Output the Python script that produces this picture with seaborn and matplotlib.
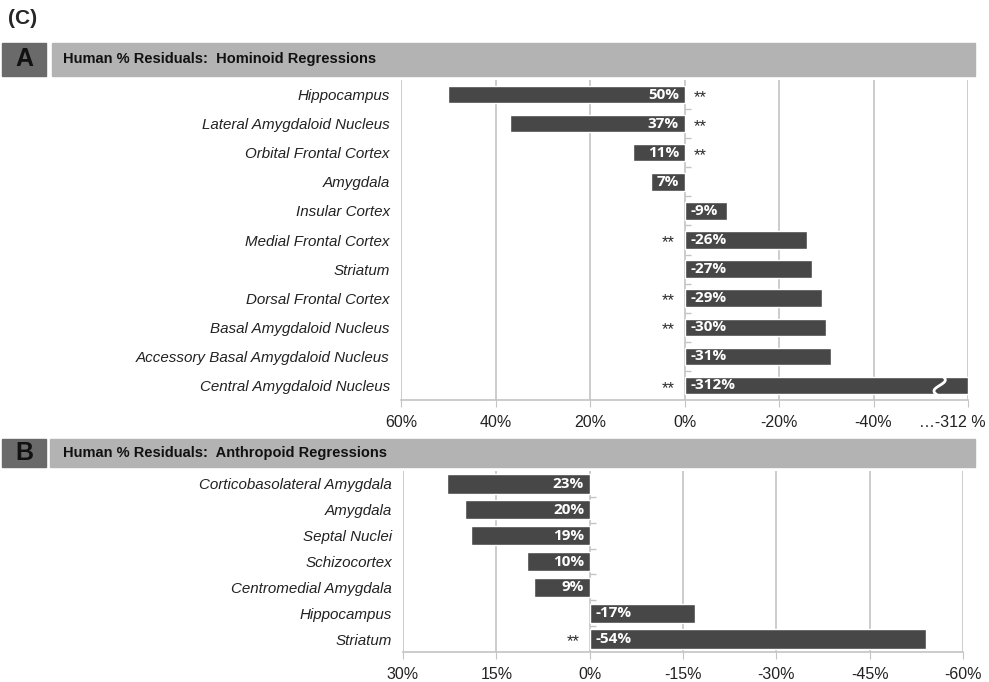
import numpy as np
import pandas as pd
import seaborn as sns
import matplotlib.pyplot as plt
import matplotlib.transforms as mtransforms
from matplotlib.patches import Rectangle

# panel A: hominoid regressions
regions_a = ['Hippocampus', 'Lateral Amygdaloid Nucleus', 'Orbital Frontal Cortex', 'Amygdala',
             'Insular Cortex', 'Medial Frontal Cortex', 'Striatum', 'Dorsal Frontal Cortex',
             'Basal Amygdaloid Nucleus', 'Accessory Basal Amygdaloid Nucleus', 'Central Amygdaloid Nucleus']
resid_a = [50, 37, 11, 7, -9, -26, -27, -29, -30, -31, -312]
signif_a = [True, True, True, False, False, True, False, True, True, False, True]
ticks_a = [60, 40, 20, 0, -20, -40, -60]
ticklabels_a = ['60%', '40%', '20%', '0%', '-20%', '-40%', '\u2026-312 %']

# panel B: anthropoid regressions
regions_b = ['Corticobasolateral Amygdala', 'Amygdala', 'Septal Nuclei', 'Schizocortex',
             'Centromedial Amygdala', 'Hippocampus', 'Striatum']
resid_b = [23, 20, 19, 10, 9, -17, -54]
signif_b = [False, False, False, False, False, False, True]
ticks_b = [30, 15, 0, -15, -30, -45, -60]
ticklabels_b = ['30%', '15%', '0%', '-15%', '-30%', '-45%', '-60%']

BAR = '#474747'
GRID = '#c4c4c4'

sns.set_style("white")
plt.rcParams['font.family'] = ['Liberation Sans', 'DejaVu Sans']

fig = plt.figure(figsize=(9.89, 6.82), dpi=100)
W, H = 989, 682


def px_axes(x0, y0, x1, y1):
    return fig.add_axes([x0 / W, 1 - y1 / H, (x1 - x0) / W, (y1 - y0) / H])


def header(y0, y1, letter, title, xg):
    fig.patches.append(Rectangle((2 / W, 1 - y1 / H), 44 / W, (y1 - y0) / H,
                                 transform=fig.transFigure, color='#6a6a6a', zorder=0))
    fig.patches.append(Rectangle((xg / W, 1 - y1 / H), (975 - xg) / W, (y1 - y0) / H,
                                 transform=fig.transFigure, color='#b3b3b3', zorder=0))
    yc = 1 - (y0 + y1) / 2 / H
    fig.text(24 / W, yc, letter, fontsize=18, fontweight='bold', ha='center', va='center', color='#111111')
    fig.text(63 / W, yc, title, fontsize=10.5, fontweight='bold', ha='left', va='center', color='#111111')


def panel(ax, regions, resid, signif, ticks, ticklabels, lim, bar_h):
    df = pd.DataFrame({'region': regions, 'resid': resid,
                       'shown': np.clip(resid, lim[1], lim[0])})
    sns.barplot(data=df, x='shown', y='region', orient='h', color=BAR, saturation=1,
                width=bar_h, ax=ax, zorder=3)
    ax.set_xlim(*lim)
    ax.set_ylim(len(regions) - 0.5, -0.5)
    ax.set_xticks(ticks)
    ax.set_xticklabels(ticklabels, fontsize=11.5, color='#222222')
    ax.set_xlabel('')
    ax.set_ylabel('')
    ax.set_yticks(range(len(regions)))
    ax.set_yticklabels(regions, fontsize=10.9, style='italic', color='#222222')
    ax.tick_params(axis='y', length=0, pad=8)
    ax.tick_params(axis='x', length=5, color=GRID, direction='out', pad=6, bottom=True)
    for s in ['top', 'left', 'right']:
        ax.spines[s].set_visible(False)
    ax.spines['bottom'].set_color(GRID)
    ax.spines['bottom'].set_linewidth(1.2)
    ax.grid(axis='x', color=GRID, linewidth=1.2, zorder=0)
    ax.grid(axis='y', visible=False)
    # small separators on the zero line
    span = lim[0] - lim[1]
    ax.hlines(np.arange(len(regions) - 1) + 0.5, 0, -span * 0.012, color=GRID, linewidth=1, zorder=2)
    for i, (v, star) in enumerate(zip(resid, signif)):
        if v > 0:
            ax.annotate(f'{v}%', (0, i), xytext=(-4, 0), textcoords='offset points',
                        ha='right', va='center', color='white', fontsize=11, fontweight='bold',
                        family=['Open Sans', 'DejaVu Sans'], zorder=5)
        else:
            ax.annotate(f'{v}%', (0, i), xytext=(4, 0), textcoords='offset points',
                        ha='left', va='center', color='white', fontsize=11, fontweight='bold',
                        family=['Open Sans', 'DejaVu Sans'], zorder=5)
        if star:
            off, ha = ((7, 'left') if v > 0 else (-7, 'right'))
            ax.annotate('**', (0, i), xytext=(off, -2), textcoords='offset points',
                        ha=ha, va='center', color='#2a2a2a', fontsize=12, zorder=5)


fig.text(8 / W, 1 - 18 / H, '(C)', fontsize=15, fontweight='bold', ha='left', va='center')

header(43, 76, 'A', 'Human % Residuals:  Hominoid Regressions', 52)
ax_a = px_axes(401, 80, 968, 400)
panel(ax_a, regions_a, resid_a, signif_a, ticks_a, ticklabels_a, (60, -60), 0.6)
# last tick label sits a bit to the left so it stays on the page
last = ax_a.get_xticklabels()[-1]
last.set_transform(last.get_transform() + mtransforms.ScaledTranslation(-11 / 72, 0, fig.dpi_scale_trans))

# axis break mark on the clipped bar
i_cut = int(np.argmin(resid_a))
yy = np.linspace(i_cut - 0.38, i_cut + 0.38, 40)
ax_a.plot(-54 + 1.2 * np.sin((yy - i_cut) * 2 * np.pi / 0.76), yy, color='white', linewidth=2, zorder=4)

header(439, 467, 'B', 'Human % Residuals:  Anthropoid Regressions', 50)
ax_b = px_axes(403, 471, 963, 652)
panel(ax_b, regions_b, resid_b, signif_b, ticks_b, ticklabels_b, (30, -60), 0.75)

fig.savefig('out.png', dpi=100)
